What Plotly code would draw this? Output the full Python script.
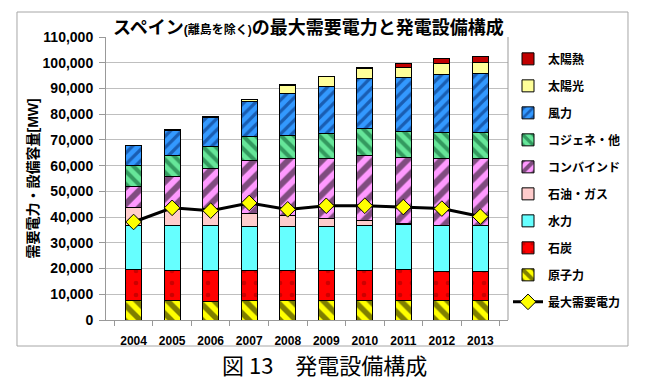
import plotly.graph_objects as go

years = ["2004", "2005", "2006", "2007", "2008", "2009", "2010", "2011", "2012", "2013"]
nuclear = [7500, 7500, 7300, 7500, 7500, 7500, 7500, 7500, 7500, 7500]
coal = [12000, 11700, 11800, 11600, 11600, 11600, 11600, 12000, 11300, 11300]
hydro = [17100, 17400, 17500, 17300, 17300, 17300, 17500, 17500, 17800, 17800]
oil_gas = [7200, 7200, 6900, 4900, 4200, 3000, 2200, 700, 300, 300]
combined = [8100, 11800, 15200, 20800, 22000, 23200, 25200, 25300, 25700, 25700]
cogen = [8100, 8300, 8600, 9100, 9100, 9700, 10300, 10400, 10100, 10100]
wind = [7800, 9900, 11500, 13900, 16200, 18600, 19500, 21000, 22800, 23000]
solar_pv = [200, 300, 400, 600, 3400, 3600, 3900, 3900, 4100, 4300]
solar_thermal = [0, 0, 0, 0, 100, 200, 500, 1400, 2100, 2300]
peak_demand = [38100, 43600, 42500, 45500, 43000, 44400, 44400, 43900, 43300, 40200]

series = [
    ("原子力", nuclear, "#FFFF00", "\\", "#000000", 11, 0.5),
    ("石炭", coal, "#FF0000", ".", "#990000", 12, 0.12),
    ("水力", hydro, "#66FFFF", "", None, 8, 0.3),
    ("石油・ガス", oil_gas, "#FFCCCC", "", None, 8, 0.3),
    ("コンバインド", combined, "#FF99FF", "/", "#000000", 12, 0.5),
    ("コジェネ・他", cogen, "#66E699", "\\", "#004D26", 9, 0.45),
    ("風力", wind, "#3399FF", "/", "#002266", 8, 0.4),
    ("太陽光", solar_pv, "#FFFF99", "", None, 8, 0.3),
    ("太陽熱", solar_thermal, "#C00000", "", None, 8, 0.3),
]

FONT = "Liberation Sans, Noto Sans CJK JP, sans-serif"

fig = go.Figure()
n = len(series)
for i, (name, vals, color, shape, fg, size, sol) in enumerate(series):
    marker = dict(color=color, line=dict(color="#000000", width=1))
    if shape:
        marker["pattern"] = dict(shape=shape, fgcolor=fg, bgcolor=color, size=size,
                                 solidity=sol, fillmode="overlay")
    fig.add_trace(go.Bar(
        x=years, y=vals, name=name, marker=marker,
        legendgroup=name, legendrank=n - i,
    ))

fig.add_trace(go.Scatter(
    x=years, y=peak_demand, name="最大需要電力", mode="lines+markers",
    line=dict(color="#000000", width=3),
    marker=dict(symbol="diamond", size=12, color="#FFFF00", line=dict(color="#000000", width=1)),
    legendgroup="demand", legendrank=n + 1,
))

# page body has an 8px margin, so the figure is 640x381 and offset by 8px
fig.update_layout(
    width=640, height=381,
    margin=dict(l=98, r=140, t=29, b=69, autoexpand=False),
    paper_bgcolor="white", plot_bgcolor="white",
    barmode="stack", bargap=0.58,
    font=dict(family=FONT, size=13, color="#000000"),
    showlegend=True,
    legend=dict(
        x=1.0, xanchor="left", y=0.974, yanchor="top",
        traceorder="grouped", tracegroupgap=8,
        font=dict(family=FONT, size=12, color="#000000", weight="bold"),
        bgcolor="rgba(0,0,0,0)",
    ),
    xaxis=dict(
        type="category", showgrid=False, showline=True, linecolor="#999999", linewidth=1,
        ticks="outside", ticklen=5, tickcolor="#999999", tickson="boundaries",
        tickangle=0, automargin=False,
        tickfont=dict(family=FONT, size=12, weight="bold"), ticklabelstandoff=10,
    ),
    yaxis=dict(
        range=[0, 110000], dtick=10000, tickformat=",", automargin=False,
        showgrid=True, gridcolor="#BFBFBF", gridwidth=1,
        showline=True, linecolor="#999999", linewidth=1, mirror=False,
        ticks="outside", ticklen=6, tickcolor="#999999",
        tickfont=dict(family=FONT, size=14, weight="bold"), ticklabelstandoff=3,
        zeroline=False,
    ),
    shapes=[
        dict(type="rect", xref="paper", yref="paper", x0=-0.2214, x1=1.2985, y0=-0.0919, y1=1.0883,
             line=dict(color="#A6A6A6", width=1), layer="below"),
        dict(type="line", xref="paper", yref="paper", x0=1, x1=1, y0=0, y1=1,
             line=dict(color="#999999", width=1)),
    ],
    annotations=[
        dict(text="<b>スペイン<span style='font-size:12px'>(離島を除く)</span>の最大需要電力と発電設備構成</b>",
             xref="paper", yref="paper", x=0.5025, y=1.032, xanchor="center", yanchor="middle",
             showarrow=False, font=dict(family=FONT, size=18, color="#000000")),
        dict(text="<b>需要電力・設備容量[MW]</b>", textangle=-90,
             xref="paper", yref="paper", x=-0.184, y=0.5, xanchor="center", yanchor="middle",
             showarrow=False, font=dict(family=FONT, size=14, color="#000000")),
        dict(text="図 13　発電設備構成",
             xref="paper", yref="paper", x=0.544, y=-0.155, xanchor="center", yanchor="middle",
             showarrow=False, font=dict(family="Noto Sans CJK JP", size=22, color="#000000")),
    ],
)

fig.write_html("out.html")
